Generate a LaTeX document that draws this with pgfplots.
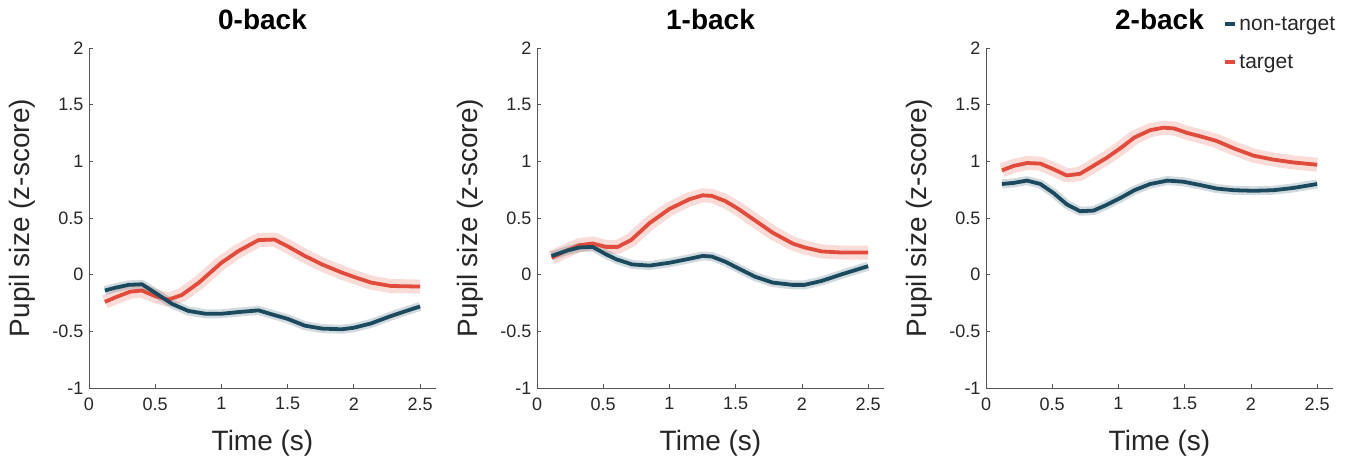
\documentclass[border=0pt]{standalone}
\usepackage{pgfplots}
\pgfplotsset{compat=1.18}
\usepackage{fontspec}
\setmainfont{Liberation Sans}
\definecolor{ntc}{HTML}{1B4A5E}
\definecolor{tc}{HTML}{E04B3B}
\definecolor{axc}{HTML}{555555}
\definecolor{txc}{HTML}{262626}

\pgfplotstableread{
x y
0.12 -0.14
0.2 -0.115
0.3 -0.09
0.4 -0.085
0.5 -0.16
0.63 -0.26
0.75 -0.32
0.88 -0.345
1.0 -0.345
1.13 -0.33
1.28 -0.315
1.38 -0.35
1.5 -0.39
1.63 -0.45
1.76 -0.476
1.91 -0.482
2.0 -0.468
2.13 -0.43
2.28 -0.365
2.5 -0.28
}\ntA
\pgfplotstableread{
x y
0.12 -0.24
0.2 -0.2
0.31 -0.15
0.4 -0.14
0.5 -0.19
0.6 -0.22
0.7 -0.18
0.83 -0.07
1.0 0.105
1.13 0.21
1.28 0.305
1.4 0.31
1.5 0.25
1.63 0.165
1.76 0.09
1.91 0.018
2.0 -0.02
2.13 -0.07
2.28 -0.1
2.5 -0.105
}\tA
\pgfplotstableread{
x y
0.11 0.165
0.22 0.21
0.32 0.24
0.42 0.245
0.52 0.18
0.6 0.135
0.72 0.09
0.85 0.08
1.0 0.105
1.15 0.14
1.25 0.165
1.32 0.16
1.42 0.115
1.53 0.05
1.65 -0.02
1.78 -0.07
1.93 -0.09
2.02 -0.09
2.15 -0.055
2.3 0.003
2.5 0.075
}\ntB
\pgfplotstableread{
x y
0.11 0.15
0.22 0.21
0.32 0.26
0.42 0.275
0.52 0.245
0.61 0.245
0.71 0.305
0.85 0.455
1.0 0.58
1.15 0.665
1.25 0.7
1.32 0.695
1.42 0.65
1.52 0.58
1.65 0.475
1.78 0.37
1.93 0.275
2.02 0.24
2.15 0.205
2.3 0.195
2.5 0.195
}\tB
\pgfplotstableread{
x y
0.12 0.8
0.21 0.81
0.31 0.83
0.41 0.8
0.51 0.72
0.61 0.62
0.71 0.56
0.81 0.565
0.91 0.615
1.02 0.68
1.12 0.745
1.24 0.8
1.37 0.83
1.49 0.82
1.62 0.79
1.74 0.76
1.87 0.745
2.02 0.74
2.17 0.745
2.32 0.765
2.5 0.8
}\ntC
\pgfplotstableread{
x y
0.12 0.92
0.21 0.96
0.31 0.985
0.41 0.98
0.51 0.93
0.61 0.875
0.71 0.89
0.81 0.96
0.91 1.03
1.02 1.12
1.12 1.21
1.24 1.275
1.34 1.297
1.42 1.29
1.52 1.25
1.62 1.22
1.74 1.18
1.87 1.115
2.02 1.05
2.17 1.015
2.32 0.99
2.5 0.97
}\tC

\pgfplotsset{
  panel/.style={
    width=347bp, height=340bp, scale only axis,
    xmin=0, xmax=2.62, ymin=-1, ymax=2,
    axis x line=bottom, axis y line=left,
    axis line style={-, draw=axc, line width=0.8bp},
    xtick={0,0.5,1,1.5,2,2.5},
    ytick={-1,-0.5,0,0.5,1,1.5,2},
    tick align=inside, major tick length=4bp,
    tick style={draw=axc, line width=0.8bp},
    /pgf/number format/assume math mode=true,
    ticklabel style={font=\fontsize{18bp}{20bp}\selectfont, text=txc},
    xticklabel style={yshift=-6bp},
    yticklabel style={xshift=-2bp},
    xlabel={Time (s)}, ylabel={Pupil size (z-score)},
    label style={font=\fontsize{28bp}{30bp}\selectfont, text=txc},
    xlabel style={at={(axis description cs:0.5,-0.115)}, anchor=north},
    ylabel style={at={(axis description cs:-0.145,0.5)}, anchor=south},
    title style={at={(axis description cs:0.5,1)}, anchor=base, yshift=13bp, font=\fontsize{28bp}{30bp}\selectfont\bfseries, text=black},
    clip=false,
  },
  bandN/.style={ntc, opacity=0.2, line width=9bp, line join=round, line cap=butt, forget plot},
  bandT/.style={tc, opacity=0.2, line width=14bp, line join=round, line cap=butt, forget plot},
  lineN/.style={ntc, line width=3.8bp, line join=round},
  lineT/.style={tc, line width=3.8bp, line join=round},
}

\begin{document}
\begin{tikzpicture}[x=1bp,y=1bp]
\useasboundingbox (0,0) rectangle (1350,462);

\begin{axis}[panel, at={(89bp,74bp)}, anchor=south west, title={0-back}]
\addplot[bandT] table {\tA};
\addplot[bandN] table {\ntA};
\addplot[lineT] table {\tA};
\addplot[lineN] table {\ntA};
\end{axis}

\begin{axis}[panel, at={(537bp,74bp)}, anchor=south west, title={1-back}]
\addplot[bandT] table {\tB};
\addplot[bandN] table {\ntB};
\addplot[lineT] table {\tB};
\addplot[lineN] table {\ntB};
\end{axis}

\begin{axis}[panel, at={(986bp,74bp)}, anchor=south west, title={2-back},
  legend style={at={(axis description cs:0.675,1.105)}, anchor=north west, draw=none, fill=none,
    font=\fontsize{21bp}{23bp}\selectfont, text=txc, row sep=19bp},
  legend cell align=left,
  legend image code/.code={\draw[#1, line width=4bp, line cap=butt] (0bp,0bp) -- (10bp,0bp);},
  reverse legend]
\addplot[bandT] table {\tC};
\addplot[bandN] table {\ntC};
\addplot[lineT] table {\tC};
\addplot[lineN] table {\ntC};
\legend{target, non-target}
\end{axis}
\end{tikzpicture}
\end{document}
